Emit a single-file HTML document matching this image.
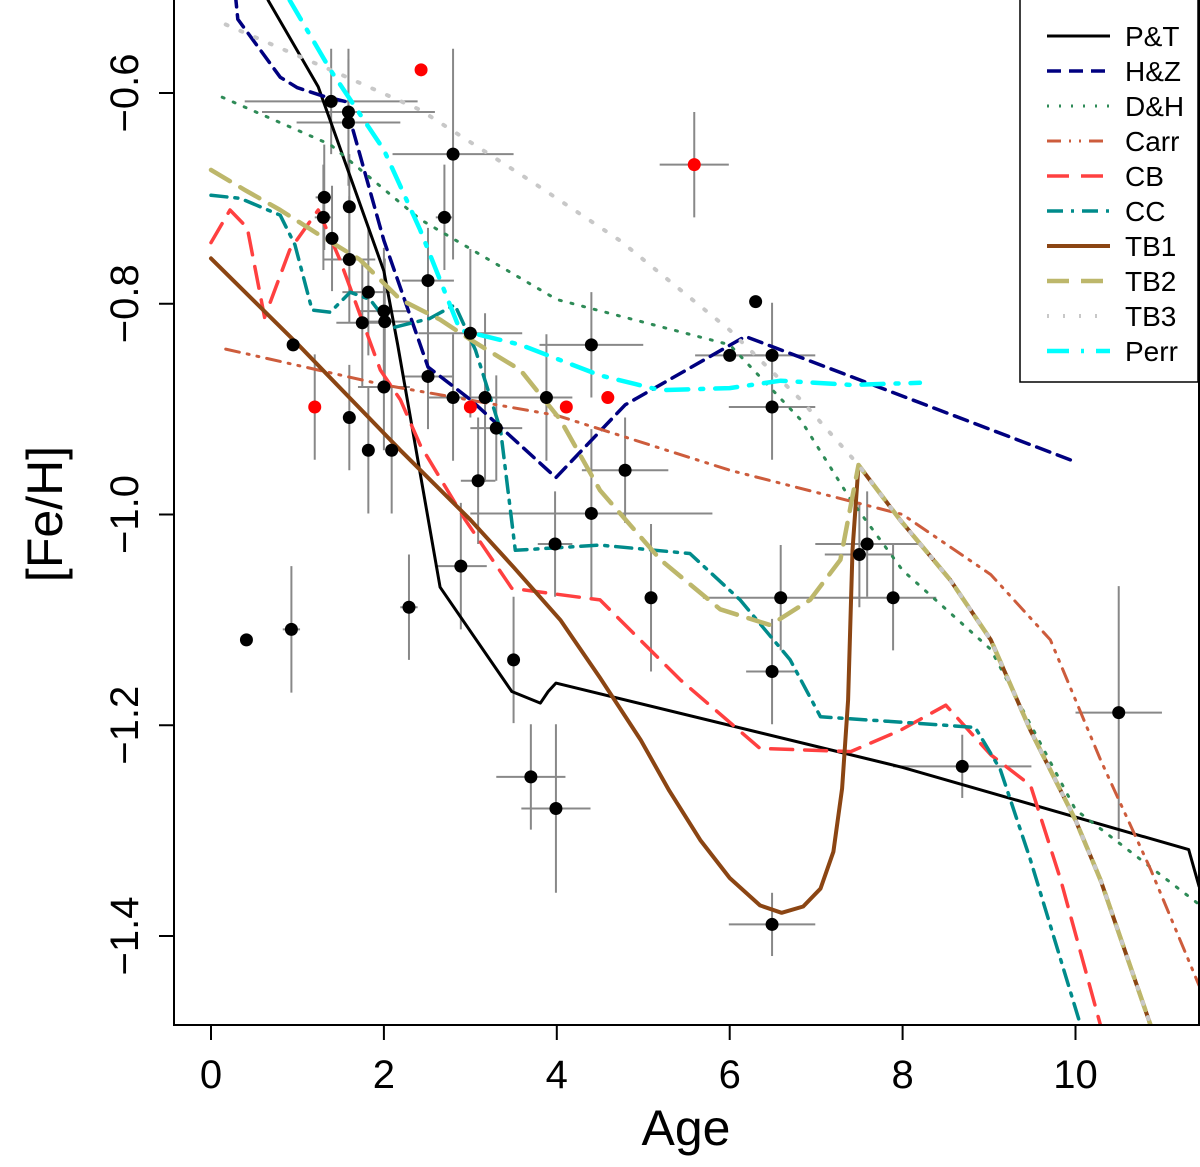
<!DOCTYPE html>
<html><head><meta charset="utf-8"><style>
body{margin:0;background:#fff}
svg{display:block;font-family:"Liberation Sans",sans-serif}
</style></head><body>
<svg id="chart" width="1200" height="1167" viewBox="0 0 1200 1167">
<defs><clipPath id="clip"><rect x="174" y="0" width="1025" height="1025"/></clipPath></defs>
<g id="plot" clip-path="url(#clip)"></g>
<rect x="174" y="-2" width="1025" height="1027" fill="none" stroke="#000" stroke-width="2"/>
<g id="axes"></g>
<text x="686" y="1145" font-size="50" text-anchor="middle">Age</text>
<text transform="translate(62,514) rotate(-90)" font-size="50" text-anchor="middle">[Fe/H]</text>
<g id="legend"></g>
</svg>
<script>
const xTicks=[0,2,4,6,8,10];
const yTicks=[-0.6,-0.8,-1.0,-1.2,-1.4];
const yTickLabels=["−0.6","−0.8","−1.0","−1.2","−1.4"];
const ptAge=[0.41,0.93,0.95,1.31,1.30,1.39,1.40,1.59,1.59,1.60,1.60,1.60,1.75,1.82,1.82,2.0,2.01,2.0,2.09,2.29,2.51,2.51,2.70,2.80,2.80,2.89,3.0,3.09,3.17,3.30,3.50,3.70,3.88,3.98,3.99,4.40,4.40,4.79,5.09,6.0,6.30,6.49,6.49,6.49,6.59,6.49,7.5,7.59,7.89,8.69,10.5];
const ptFeh=[-1.119,-1.109,-0.839,-0.699,-0.718,-0.608,-0.738,-0.618,-0.628,-0.708,-0.758,-0.908,-0.818,-0.789,-0.939,-0.807,-0.817,-0.879,-0.939,-1.088,-0.778,-0.869,-0.718,-0.658,-0.889,-1.049,-0.828,-0.968,-0.889,-0.918,-1.138,-1.249,-0.889,-1.028,-1.279,-0.839,-0.999,-0.958,-1.079,-0.849,-0.798,-0.849,-0.898,-1.149,-1.079,-1.389,-1.038,-1.028,-1.079,-1.239,-1.188];
const ptXerr=[0,0.1,0,0.1,0.1,1.0,0,1.0,0.6,0,0.3,0,0.3,0.3,0,0.3,0.3,0.3,0,0.1,0.3,0.3,0.1,0.7,0.3,0.3,0.6,0.2,0.5,0.3,0,0.4,0.3,0.2,0.4,0.6,1.4,0.5,0,0.4,0,0.5,0.5,0.3,0.9,0.5,0.4,0.6,0.5,0.8,0.5];
const ptYerr=[0,0.06,0,0.05,0.05,0.05,0.05,0.06,0.06,0.05,0.06,0.05,0.06,0.06,0.06,0.06,0.06,0.06,0.06,0.05,0.05,0.05,0.05,0.1,0.06,0.06,0.08,0.06,0.08,0.05,0.06,0.05,0.06,0.05,0.08,0.05,0.08,0.05,0.07,0,0,0.05,0.05,0.05,0.05,0.03,0.05,0.05,0.05,0.03,0.12];
const redAge=[2.43,5.59,1.20,3.0,4.11,4.59];
const redFeh=[-0.578,-0.668,-0.898,-0.898,-0.898,-0.889];
const redXerr=[0,0.4,0,0,0,0];
const redYerr=[0,0.05,0.05,0,0,0];
const ptAgeAge=[0.66,1.24,2.0,2.16,2.65,3.48,3.81,3.9,3.99,8.0,11.31,11.43];
const ptFehLine=[-0.512,-0.594,-0.769,-0.839,-1.069,-1.168,-1.179,-1.168,-1.16,-1.24,-1.318,-1.353];
const hzAge=[0.28,0.31,0.8,1.0,1.3,1.55,2.0,2.51,3.0,3.99,4.79,6.18,10.0];
const hzFeh=[-0.505,-0.53,-0.585,-0.595,-0.603,-0.608,-0.74,-0.86,-0.891,-0.965,-0.896,-0.831,-0.95];
const dhAge=[0.13,1.38,2.42,4.0,6.0,6.82,7.4,8.0,9.02,10.0,11.43];
const dhFeh=[-0.604,-0.649,-0.72,-0.796,-0.839,-0.91,-0.986,-1.053,-1.128,-1.28,-1.37];
const carrAge=[0.17,2.0,4.0,6.0,8.0,9.02,9.71,10.29,10.87,11.43];
const carrFeh=[-0.843,-0.877,-0.906,-0.958,-1.0,-1.057,-1.119,-1.233,-1.337,-1.447];
const cbAge=[0,0.22,0.42,0.62,0.91,1.24,1.49,1.96,2.19,2.42,2.94,3.48,4.5,5.43,6.35,7.4,7.97,8.5,9.02,9.48,9.83,10.29];
const cbFeh=[-0.742,-0.711,-0.728,-0.813,-0.749,-0.711,-0.758,-0.863,-0.891,-0.934,-1.005,-1.07,-1.081,-1.157,-1.222,-1.225,-1.205,-1.181,-1.228,-1.257,-1.347,-1.485];
const ccAge=[0,0.34,0.8,0.97,1.17,1.38,1.61,1.84,2.09,2.53,2.82,3.06,3.35,3.52,4.5,5.54,6.12,6.7,7.05,7.97,8.84,9.13,9.48,10.06];
const ccFeh=[-0.697,-0.7,-0.716,-0.744,-0.806,-0.808,-0.789,-0.796,-0.823,-0.814,-0.801,-0.844,-0.92,-1.034,-1.029,-1.037,-1.081,-1.138,-1.192,-1.197,-1.202,-1.242,-1.328,-1.485];
const tb1Age=[0,1.0,2.19,3.0,3.5,4.04,4.5,4.97,5.3,5.66,6.0,6.35,6.6,6.85,7.05,7.2,7.3,7.37,7.42,7.49,7.97,8.55,9.02,9.48,10.0,10.29,10.87];
const tb1Feh=[-0.757,-0.838,-0.939,-1.005,-1.05,-1.1,-1.155,-1.214,-1.262,-1.309,-1.345,-1.371,-1.378,-1.372,-1.355,-1.32,-1.26,-1.176,-1.034,-0.953,-1.005,-1.062,-1.119,-1.205,-1.29,-1.347,-1.485];
const tb2Age=[0,0.39,0.8,1.26,1.72,2.19,2.65,3.0,3.58,4.04,4.5,5.2,5.89,6.47,6.93,7.28,7.49,7.97,8.55,9.02,9.48,10.0,10.29,10.87];
const tb2Feh=[-0.673,-0.692,-0.711,-0.735,-0.758,-0.796,-0.815,-0.834,-0.863,-0.91,-0.977,-1.043,-1.09,-1.105,-1.081,-1.043,-0.953,-1.005,-1.062,-1.119,-1.205,-1.29,-1.347,-1.485];
const tb3Age=[0.17,1.38,2.42,3.69,4.73,6.0,6.82,7.49,7.97,8.55,9.02,9.48,10.0,10.29,10.87];
const tb3Feh=[-0.535,-0.578,-0.616,-0.683,-0.74,-0.825,-0.891,-0.953,-1.005,-1.062,-1.119,-1.205,-1.29,-1.347,-1.485];
const perrAge=[0.91,1.38,2.0,2.42,2.88,3.58,4.5,5.2,6.0,6.59,7.4,8.2];
const perrFeh=[-0.512,-0.578,-0.654,-0.73,-0.825,-0.839,-0.868,-0.882,-0.88,-0.873,-0.877,-0.875];
const legendLabels=["P&T","H&Z","D&H","Carr","CB","CC","TB1","TB2","TB3","Perr"];

const X=a=>211+a*86.45, Y=f=>93+(-0.6-f)*1053.75;
const NS="http://www.w3.org/2000/svg";
function mk(tag,attrs,parent){const e=document.createElementNS(NS,tag);for(const k in attrs)e.setAttribute(k,attrs[k]);parent.appendChild(e);return e;}
const plot=document.getElementById('plot'),axes=document.getElementById('axes'),leg=document.getElementById('legend');

function bars(ages,fehs,xe,ye,name){
  for(let i=0;i<ages.length;i++){
    if(xe[i]>0){const l=mk('line',{x1:X(ages[i]-xe[i]),x2:X(ages[i]+xe[i]),y1:Y(fehs[i]),y2:Y(fehs[i]),stroke:'#888','stroke-width':2},plot);
      
      }
    if(ye[i]>0){const l=mk('line',{x1:X(ages[i]),x2:X(ages[i]),y1:Y(fehs[i]-ye[i]),y2:Y(fehs[i]+ye[i]),stroke:'#888','stroke-width':2},plot);
      
      }
  }
}
bars(ptAge,ptFeh,ptXerr,ptYerr,'cluster');
bars(redAge,redFeh,redXerr,redYerr,'red-cluster');

const series=[
 [ptAgeAge,ptFehLine,'#000',3,'','p-and-t-line'],
 [hzAge,hzFeh,'#000080',3.5,'14 8','h-and-z-line'],
 [dhAge,dhFeh,'#2e8b57',3,'2 10','d-and-h-line'],
 [carrAge,carrFeh,'#cd5c3c',3,'14 8 2 8 2 8','carr-line'],
 [cbAge,cbFeh,'#ff4040',3.5,'22 12','cb-line'],
 [ccAge,ccFeh,'#008b8b',3.5,'16 8 3 8','cc-line'],
 [tb1Age,tb1Feh,'#8b4513',4,'','tb1-line'],
 [tb2Age,tb2Feh,'#bdb76b',4.5,'22 12','tb2-line'],
 [tb3Age,tb3Feh,'#c8c8c8',4,'2 14','tb3-line'],
 [perrAge,perrFeh,'#00ffff',4.5,'22 12 3 12','perr-line']];
series.forEach(s=>{
  const pts=s[0].map((a,i)=>X(a).toFixed(1)+','+Y(s[1][i]).toFixed(1)).join(' ');
  const p=mk('polyline',{points:pts,fill:'none',stroke:s[2],'stroke-width':s[3],'stroke-dasharray':s[4],'stroke-linecap':'round','stroke-linejoin':'round'},plot);
  
  
});
ptAge.forEach((a,i)=>{const c=mk('circle',{cx:X(a),cy:Y(ptFeh[i]),r:6.5,fill:'#000'},plot);
  
  });
redAge.forEach((a,i)=>{const c=mk('circle',{cx:X(a),cy:Y(redFeh[i]),r:6.5,fill:'#f00'},plot);
  
  });

xTicks.forEach(t=>{
  const l=mk('line',{x1:X(t),x2:X(t),y1:1025,y2:1040,stroke:'#000','stroke-width':2},axes);
  
  
  const tx=mk('text',{x:X(t),y:1088,'font-size':40,'text-anchor':'middle'},axes);tx.textContent=t;
  
  
});
yTicks.forEach((t,i)=>{
  const l=mk('line',{x1:159,x2:174,y1:Y(t),y2:Y(t),stroke:'#000','stroke-width':2},axes);
  
  
  const tx=mk('text',{transform:`translate(138,${Y(t)}) rotate(-90)`,'font-size':40,'text-anchor':'middle'},axes);tx.textContent=yTickLabels[i];
  
  
});
const box=mk('rect',{x:1020,y:-2,width:178,height:384,fill:'#fff',stroke:'#000','stroke-width':1.5},leg);


legendLabels.forEach((lab,i)=>{
  const y=36+i*35, s=series[i];
  const l=mk('line',{x1:1047,x2:1110,y1:y,y2:y,stroke:s[2],'stroke-width':s[3],'stroke-dasharray':s[4]},leg);
  
  
  const t=mk('text',{x:1125,y:y+10,'font-size':28},leg);t.textContent=lab;
  
  
});
</script>
</body></html>
